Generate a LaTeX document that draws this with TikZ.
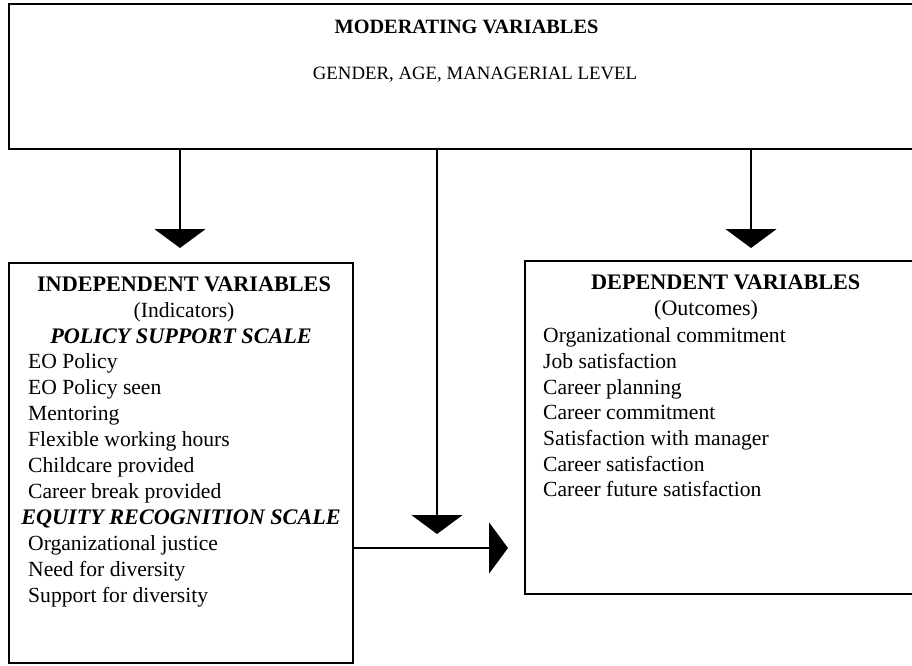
\documentclass[tikz,border=0pt]{standalone}
\usepackage{fontspec}
\setmainfont{Liberation Serif}
\usetikzlibrary{arrows.meta}
\begin{document}
\begin{tikzpicture}[x=1pt,y=-1pt,
  frame/.style={draw=black,line width=2pt,rectangle,inner sep=0pt,anchor=north west},
  body/.style={inner sep=0pt,font=\fontsize{21.6}{26}\selectfont},
  item/.style={body,anchor=base west},
  head/.style={body,anchor=base,font=\fontsize{22.2}{26}\selectfont\bfseries},
  scalehead/.style={body,anchor=base,font=\fontsize{22.2}{26}\selectfont\bfseries\itshape},
  small/.style={inner sep=0pt,anchor=base,font=\fontsize{18.8}{22}\selectfont},
  link/.style={line width=1.8pt,-{Triangle[width=51pt,length=19pt]}}]
\useasboundingbox (0,0) rectangle (912,665);
\clip (0,0) rectangle (912,665);

% boxes
\node[frame,minimum width=908pt,minimum height=145pt] (mod) at (8,3) {};
\node[frame,minimum width=344pt,minimum height=400pt] (ind) at (8,262) {};
\node[frame,minimum width=392pt,minimum height=333pt] (dep) at (524,260) {};

% moderating variables
\node[small,font=\fontsize{20.3}{24}\selectfont\bfseries] (modt) at (466.5,33) {MODERATING VARIABLES};
\node[small] (modl) at (475,79) {GENDER, AGE, MANAGERIAL LEVEL};

% independent variables
\node[head] (indt) at (184,291) {INDEPENDENT VARIABLES};
\node[body,anchor=base] (inds) at (184,317) {(Indicators)};
\node[scalehead] (pss) at (181,343) {POLICY SUPPORT SCALE};
\node[item] (i1) at (28,368) {EO Policy};
\node[item] (i2) at (28,394) {EO Policy seen};
\node[item] (i3) at (28,420) {Mentoring};
\node[item] (i4) at (28,446) {Flexible working hours};
\node[item] (i5) at (28,472) {Childcare provided};
\node[item] (i6) at (28,498) {Career break provided};
\node[scalehead] (ers) at (181,524) {EQUITY RECOGNITION SCALE};
\node[item] (i7) at (28,550) {Organizational justice};
\node[item] (i8) at (28,576) {Need for diversity};
\node[item] (i9) at (28,602) {Support for diversity};

% dependent variables
\node[head,anchor=base west] (dept) at (591,289) {DEPENDENT VARIABLES};
\node[body,anchor=base west,font=\fontsize{22}{26}\selectfont] (deps) at (654,315) {(Outcomes)};
\node[item] (d1) at (543,342) {Organizational commitment};
\node[item] (d2) at (543,368) {Job satisfaction};
\node[item] (d3) at (543,394) {Career planning};
\node[item] (d4) at (543,419) {Career commitment};
\node[item] (d5) at (543,445) {Satisfaction with manager};
\node[item] (d6) at (543,471) {Career satisfaction};
\node[item] (d7) at (543,496) {Career future satisfaction};

% arrow ends
\coordinate (tipL) at (180,248);
\coordinate (tipM) at (437,534);
\coordinate (tipR) at (751,248);
\coordinate (tipH) at (508,548);
\coordinate (srcH) at (352,548);

\draw[link] (tipL |- mod.south) -- (tipL);
\draw[link] (tipM |- mod.south) -- (tipM);
\draw[link] (tipR |- mod.south) -- (tipR);
\draw[link] (srcH -| ind.east) -- (tipH);
\end{tikzpicture}
\end{document}
